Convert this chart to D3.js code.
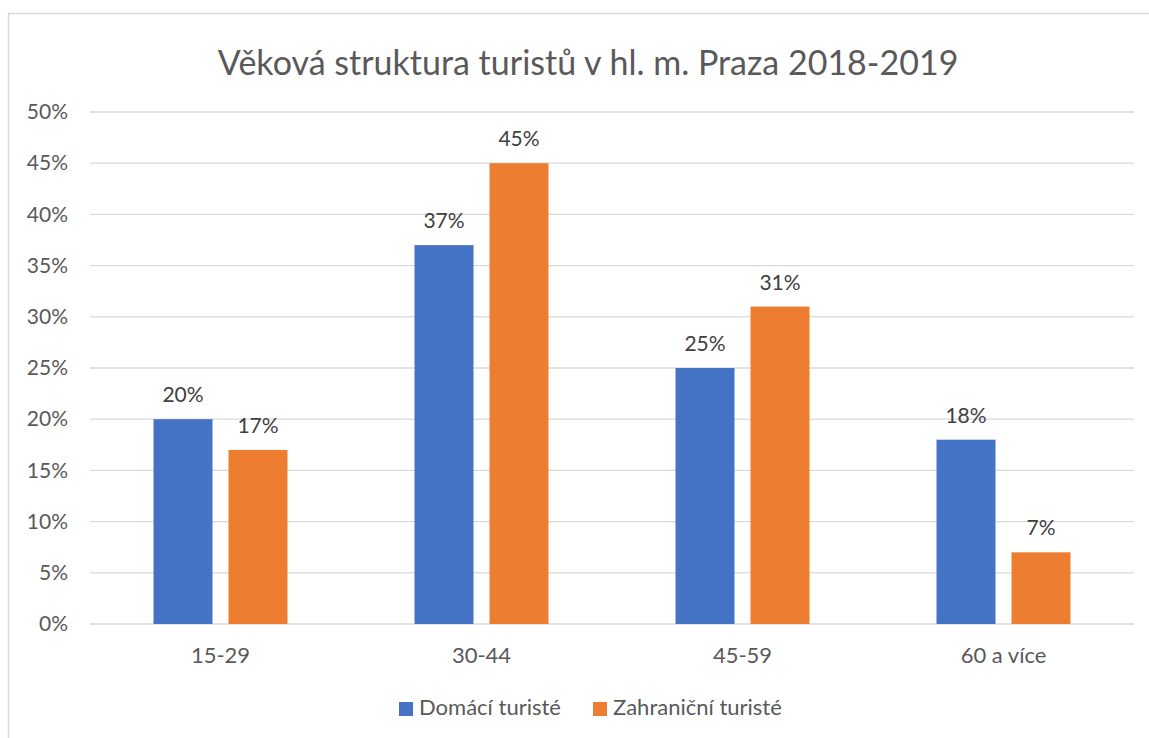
<!DOCTYPE html>
<html><head><meta charset="utf-8">
<script src="https://cdn.jsdelivr.net/npm/d3@7"></script>
<style>body{margin:0;background:#fff}svg{display:block}text{font-family:Lato,"Open Sans",sans-serif}</style>
</head><body>
<svg id="c" width="1149" height="738"></svg>
<script>
const categories = ["15-29","30-44","45-59","60 a více"];
const seriesNames = ["Domácí turisté","Zahraniční turisté"];
const domaci = [20,37,25,18];
const zahranicni = [17,45,31,7];
const yTicks = [0,5,10,15,20,25,30,35,40,45,50];
const title = "Věková struktura turistů v hl. m. Praza 2018-2019";
const colors = ["#4472C4","#ED7D31"];

const svg = d3.select("#c");
svg.append("rect").attr("x",8.5).attr("y",13.5).attr("width",1160).attr("height",760)
  .attr("fill","#fff").attr("stroke","#D9D9D9").attr("stroke-width",1.5);

const L=90,R=1134,T=112,B=624;
const x = d3.scaleBand().domain(categories).range([L,R]).paddingInner(0).paddingOuter(0);
const y = d3.scaleLinear().domain([0,50]).range([B,T]);
const barW=59, gap=16;

svg.append("text").attr("x",588).attr("y",75).attr("text-anchor","middle")
  .attr("font-size",34).attr("fill","#595959").text(title);

const yAxis = d3.axisLeft(y).tickValues(yTicks).tickFormat(d=>d+"%").tickSize(0).tickPadding(0);
const gy = svg.append("g").attr("transform",`translate(68,0)`).call(yAxis);
gy.select(".domain").remove();
gy.selectAll("text").attr("font-size",21).attr("fill","#595959").attr("font-family","Lato,sans-serif");

svg.append("g").selectAll("line").data(yTicks).join("line")
  .attr("x1",L).attr("x2",R).attr("y1",d=>y(d)).attr("y2",d=>y(d))
  .attr("stroke","#D9D9D9").attr("stroke-width",1.3);

const xAxis = d3.axisBottom(x).tickSize(0).tickPadding(0);
const gx = svg.append("g").attr("transform",`translate(0,${B})`).call(xAxis);
gx.select(".domain").remove();
gx.selectAll("text").attr("font-size",22).attr("fill","#595959").attr("font-family","Lato,sans-serif")
  .attr("dy",0).attr("y",39);

const series=[domaci,zahranicni];
series.forEach((vals,si)=>{
  const off = x.bandwidth()/2 - barW - gap/2 + si*(barW+gap);
  const g = svg.append("g");
  g.selectAll("rect").data(vals).join("rect")
    .attr("x",(d,i)=>x(categories[i])+off).attr("width",barW)
    .attr("y",d=>y(d)).attr("height",d=>B-y(d)).attr("fill",colors[si]);
  g.selectAll("text").data(vals).join("text")
    .attr("x",(d,i)=>x(categories[i])+off+barW/2).attr("y",d=>y(d)-17)
    .attr("text-anchor","middle").attr("font-size",21).attr("fill","#404040").text(d=>d+"%");
});

const leg = svg.append("g");
const legX=[399,593];
seriesNames.forEach((n,i)=>{
  leg.append("rect").attr("x",legX[i]).attr("y",702).attr("width",14).attr("height",14).attr("fill",colors[i]);
  leg.append("text").attr("x",legX[i]+20).attr("y",715).attr("font-size",22).attr("fill","#595959").text(n);
});
</script>
</body></html>
